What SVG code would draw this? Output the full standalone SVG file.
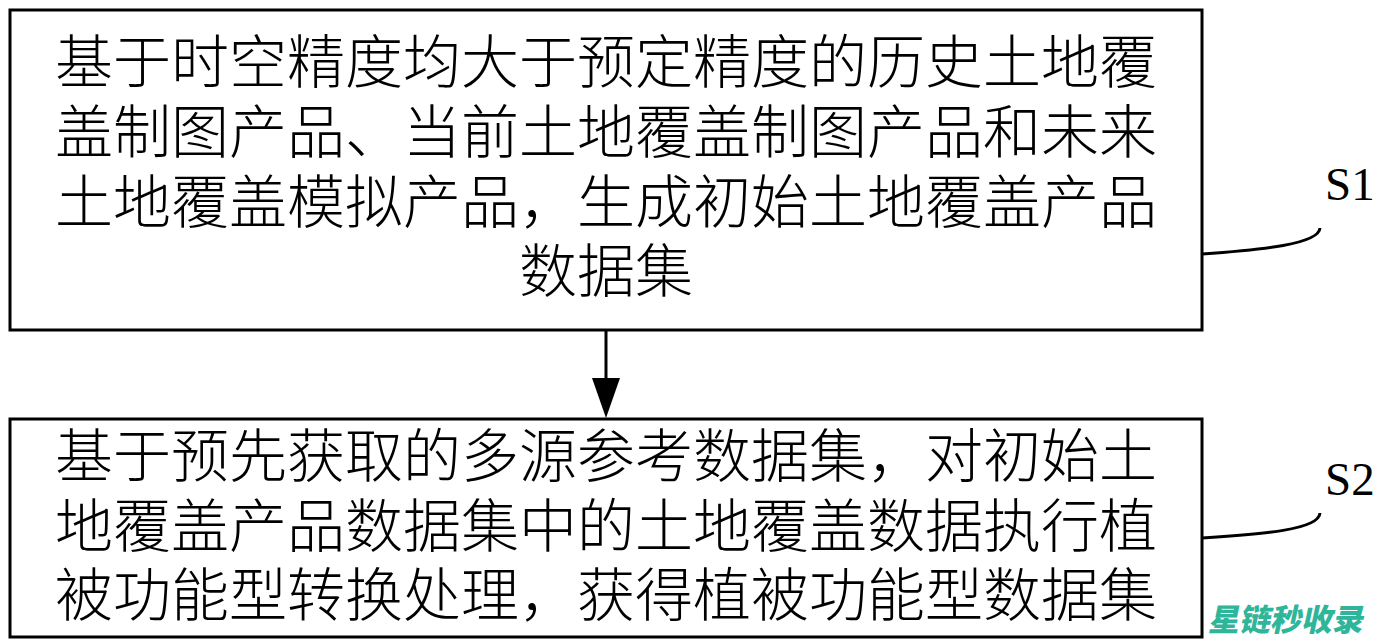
<svg xmlns="http://www.w3.org/2000/svg" width="1387" height="644" viewBox="0 0 1387 644">
<style>
.box{fill:#fff;stroke:#000;stroke-width:3}
.t{font-family:"Noto Sans CJK SC","Noto Sans CJK JP",sans-serif;font-size:58px;font-weight:300;fill:#000;text-anchor:middle}
.lbl{font-family:"Liberation Serif",serif;font-size:47px;fill:#000}
.lead{fill:none;stroke:#000;stroke-width:3}
.wm{font-family:"Noto Sans CJK SC",sans-serif;font-size:31px;font-weight:900;fill:#2fb59a}
</style>
<defs>
<marker id="ah" markerWidth="27" markerHeight="40" refX="13.5" refY="40" orient="auto-start-reverse" markerUnits="userSpaceOnUse" viewBox="0 0 27 40">
<path d="M0,0 L27,0 L13.5,40 Z" fill="#000"/>
</marker>
</defs>
<rect width="1387" height="644" fill="#fff"/>
<g id="S1">
<rect class="box" x="10" y="10" width="1192" height="320"/>
<text class="t" x="606" y="83">基于时空精度均大于预定精度的历史土地覆</text>
<text class="t" x="606" y="153">盖制图产品、当前土地覆盖制图产品和未来</text>
<text class="t" x="606" y="223">土地覆盖模拟产品，生成初始土地覆盖产品</text>
<text class="t" x="606" y="292">数据集</text>
</g>
<g id="S2">
<rect class="box" x="10" y="419" width="1192" height="218"/>
<text class="t" x="606" y="477">基于预先获取的多源参考数据集，对初始土</text>
<text class="t" x="606" y="547">地覆盖产品数据集中的土地覆盖数据执行植</text>
<text class="t" x="606" y="616">被功能型转换处理，获得植被功能型数据集</text>
</g>
<g id="labels">
<text class="lbl" x="1325" y="200">S1</text>
<text class="lbl" x="1325" y="495">S2</text>
</g>
<g id="connectors">
<line x1="606" y1="331" x2="606" y2="378" stroke="#000" stroke-width="3"/>
<path d="M592,378 L620,378 L606,418 Z" fill="#000"/>
<path class="lead" d="M1202,254 C1262,250 1319,244 1320,228"/>
<path class="lead" d="M1202,538 C1262,534 1319,530 1320,513"/>
</g>
<text class="wm" x="1208" y="631" transform="skewX(-12) translate(134,0)">星链秒收录</text>
</svg>
